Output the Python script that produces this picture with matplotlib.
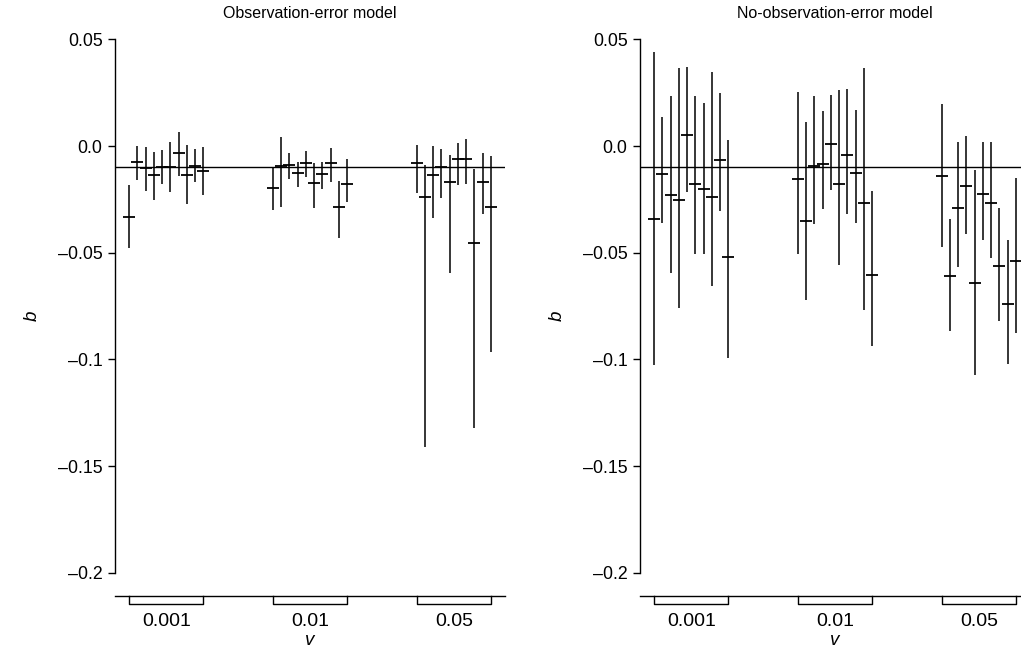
import numpy as np
import matplotlib.pyplot as plt

plt.rcParams['font.family'] = ['Liberation Sans', 'DejaVu Sans']

# Data
v_labels = ['0.001', '0.01', '0.05']
ref_b = -0.01

# Observation-error model: estimates and interval ends (3 groups x 10)
obs_est = [-0.0331, -0.0076, -0.0104, -0.0137, -0.0098, -0.0100, -0.0031, -0.0134, -0.0094, -0.0117,
           -0.0195, -0.0092, -0.0089, -0.0125, -0.0078, -0.0172, -0.0130, -0.0078, -0.0286, -0.0177,
           -0.0081, -0.0237, -0.0134, -0.0100, -0.0167, -0.0059, -0.0059, -0.0456, -0.0167, -0.0284]
obs_lo = [-0.0479, -0.0159, -0.0211, -0.0253, -0.0179, -0.0214, -0.0141, -0.0272, -0.0170, -0.0228,
          -0.0301, -0.0284, -0.0156, -0.0191, -0.0147, -0.0292, -0.0201, -0.0167, -0.0429, -0.0261,
          -0.0219, -0.1408, -0.0339, -0.0242, -0.0596, -0.0183, -0.0178, -0.1322, -0.0318, -0.0963]
obs_hi = [-0.0183, 0.0000, -0.0006, -0.0028, -0.0019, 0.0019, 0.0066, 0.0006, -0.0014, -0.0005,
          -0.0097, 0.0044, -0.0034, -0.0073, -0.0022, -0.0078, -0.0073, -0.0008, -0.0164, -0.0062,
          0.0005, -0.0089, 0.0000, -0.0016, -0.0042, 0.0012, 0.0031, -0.0109, -0.0031, -0.0047]

# No-observation-error model
noobs_est = [-0.0341, -0.0133, -0.0231, -0.0252, 0.0053, -0.0180, -0.0202, -0.0239, -0.0066, -0.0520,
             -0.0156, -0.0352, -0.0094, -0.0086, 0.0008, -0.0180, -0.0042, -0.0125, -0.0267, -0.0603,
             -0.0141, -0.0609, -0.0289, -0.0186, -0.0644, -0.0227, -0.0266, -0.0563, -0.0742, -0.0539]
noobs_lo = [-0.1028, -0.0359, -0.0594, -0.0758, -0.0216, -0.0508, -0.0508, -0.0656, -0.0305, -0.0993,
            -0.0505, -0.0723, -0.0367, -0.0294, -0.0205, -0.0559, -0.0317, -0.0362, -0.0766, -0.0938,
            -0.0472, -0.0867, -0.0567, -0.0411, -0.1074, -0.0442, -0.0524, -0.0820, -0.1019, -0.0875]
noobs_hi = [0.0442, 0.0136, 0.0234, 0.0367, 0.0370, 0.0234, 0.0203, 0.0345, 0.0250, 0.0027,
            0.0255, 0.0114, 0.0236, 0.0163, 0.0238, 0.0264, 0.0267, 0.0167, 0.0367, -0.0211,
            0.0198, -0.0344, 0.0019, 0.0047, -0.0113, 0.0019, 0.0019, -0.0292, -0.0442, -0.0149]

yticks = [-0.2, -0.15, -0.1, -0.05, 0.0, 0.05]
ytick_labels = ['\u20130.2', '\u20130.15', '\u20130.1', '\u20130.05', '0.0', '0.05']

n_per = 10
gap = 17.4
xs = np.array([g * gap + i for g in range(3) for i in range(n_per)])
centers = [g * gap + (n_per - 1) / 2 for g in range(3)]

ybot = -0.2108
ytop = 0.052

fig = plt.figure(figsize=(10.21, 6.51), dpi=100)
ax1 = fig.add_axes([115 / 1021, 55 / 651, 390 / 1021, 561 / 651])
ax2 = fig.add_axes([640 / 1021, 55 / 651, 390 / 1021, 561 / 651])


# Draw one panel
def panel(ax, est, lo, hi, title):
  ax.axhline(ref_b, color='k', lw=1.0)
  ax.vlines(xs, lo, hi, color='k', lw=1.1)
  ax.plot(xs, est, '_', color='k', ms=8, mew=1.3)

  ax.set_xlim(-1.7, 45.5)
  ax.set_ylim(ybot, ytop)

  for s in ['top', 'right']:
    ax.spines[s].set_visible(False)
  ax.spines['left'].set_bounds(-0.2, 0.05)
  ax.spines['left'].set_linewidth(1.0)
  ax.spines['bottom'].set_linewidth(1.0)

  ax.set_yticks(yticks)
  ax.set_yticklabels(ytick_labels)
  ax.tick_params(axis='y', length=5, width=1, pad=4, labelsize=12.8)

  ax.set_xticks(centers)
  ax.set_xticklabels(v_labels)
  ax.tick_params(axis='x', length=0, pad=12.5, labelsize=14)

  # group brackets below axis line
  h = 0.00375
  for g in range(3):
    x0 = g * gap
    x1 = g * gap + n_per - 1
    ax.plot([x0, x0, x1, x1], [ybot, ybot - h, ybot - h, ybot],
            color='k', lw=1.0, clip_on=False)

  ax.set_xlabel('v', style='italic', fontsize=13.5, labelpad=1)
  ax.set_ylabel('b', style='italic', fontsize=13.5, labelpad=12)
  ax.set_title(title, fontsize=11.5, pad=12.5)


panel(ax1, obs_est, obs_lo, obs_hi, 'Observation-error model')
panel(ax2, noobs_est, noobs_lo, noobs_hi, 'No-observation-error model')

fig.savefig('out.png', dpi=100)
